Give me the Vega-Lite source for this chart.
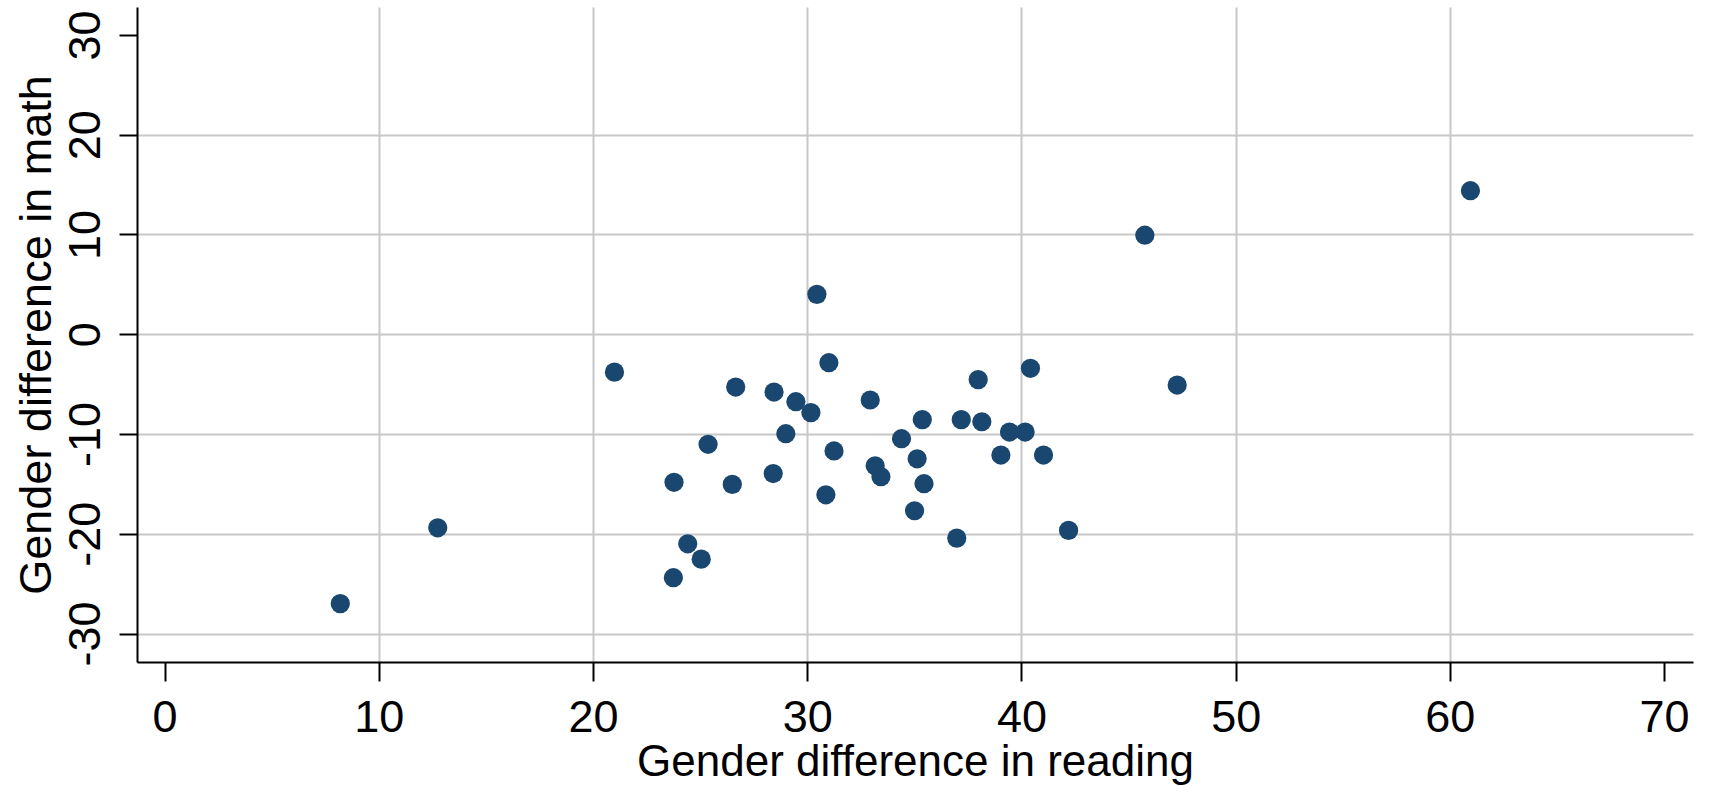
{
  "$schema": "https://vega.github.io/schema/vega-lite/v6.json",
  "autosize": {"type": "none"},
  "width": 1556,
  "height": 655,
  "padding": {"left": 137, "top": 7, "right": 18, "bottom": 124},
  "background": "white",
  "config": {
    "view": {"stroke": null},
    "font": "Liberation Sans",
    "axis": {
      "labelFont": "Liberation Sans",
      "titleFont": "Liberation Sans",
      "labelColor": "black",
      "titleColor": "black",
      "titleFontWeight": "normal",
      "domainColor": "black",
      "domainWidth": 2,
      "tickColor": "black",
      "tickWidth": 2,
      "gridColor": "#c8c8c8",
      "gridWidth": 2
    }
  },
  "data": {
    "values": [
      {"reading": 8.2, "math": -27.0},
      {"reading": 12.75, "math": -19.4},
      {"reading": 21.0, "math": -3.8},
      {"reading": 23.78, "math": -14.84},
      {"reading": 23.75, "math": -24.4},
      {"reading": 24.42, "math": -21.0},
      {"reading": 25.05, "math": -22.54},
      {"reading": 25.37, "math": -11.03},
      {"reading": 26.5, "math": -15.05},
      {"reading": 26.66, "math": -5.29},
      {"reading": 28.41, "math": -13.96},
      {"reading": 28.45, "math": -5.79},
      {"reading": 29.0, "math": -9.97},
      {"reading": 29.47, "math": -6.76},
      {"reading": 30.17, "math": -7.86},
      {"reading": 30.45, "math": 4.0},
      {"reading": 30.87, "math": -16.09},
      {"reading": 31.01, "math": -2.85},
      {"reading": 31.25, "math": -11.7},
      {"reading": 32.94, "math": -6.59},
      {"reading": 33.17, "math": -13.18},
      {"reading": 33.44, "math": -14.28},
      {"reading": 34.4, "math": -10.47},
      {"reading": 35.01, "math": -17.69},
      {"reading": 35.13, "math": -12.48},
      {"reading": 35.37, "math": -8.56},
      {"reading": 35.45, "math": -14.98},
      {"reading": 36.98, "math": -20.43},
      {"reading": 37.19, "math": -8.56},
      {"reading": 37.98, "math": -4.55},
      {"reading": 38.15, "math": -8.77},
      {"reading": 39.04, "math": -12.11},
      {"reading": 39.44, "math": -9.8},
      {"reading": 40.17, "math": -9.8},
      {"reading": 40.42, "math": -3.41},
      {"reading": 41.03, "math": -12.11},
      {"reading": 42.2, "math": -19.66},
      {"reading": 45.76, "math": 9.93},
      {"reading": 47.27, "math": -5.09},
      {"reading": 60.96, "math": 14.39}
    ]
  },
  "mark": {"type": "point", "shape": "circle", "filled": true, "size": 370, "color": "#1a476f", "opacity": 1},
  "encoding": {
    "x": {
      "field": "reading",
      "type": "quantitative",
      "scale": {"domain": [-1.29, 71.35], "nice": false, "zero": false},
      "axis": {
        "title": "Gender difference in reading",
        "titleFontSize": 44,
        "titleBaseline": "alphabetic",
        "titleY": 113,
        "values": [0, 10, 20, 30, 40, 50, 60, 70],
        "labelExpr": "'' + datum.value",
        "grid": true,
        "gridOpacity": {"condition": {"test": "datum.value === 0 || datum.value === 70", "value": 0}, "value": 1},
        "tickSize": 19,
        "labelFontSize": 45,
        "labelBaseline": "alphabetic",
        "labelPadding": 50,
        "labelFlush": false,
        "labelOverlap": false
      }
    },
    "y": {
      "field": "math",
      "type": "quantitative",
      "scale": {"domain": [-32.85, 32.8], "nice": false, "zero": false},
      "axis": {
        "title": "Gender difference in math",
        "titleFontSize": 45,
        "titleAngle": -90,
        "titleBaseline": "alphabetic",
        "titleAlign": "center",
        "titleX": -87,
        "titleY": 327.5,
        "values": [-30, -20, -10, 0, 10, 20, 30],
        "labelExpr": "'' + datum.value",
        "grid": true,
        "gridOpacity": {"condition": {"test": "datum.value === 30", "value": 0}, "value": 1},
        "tickSize": 18,
        "labelFontSize": 45,
        "labelAngle": -90,
        "labelAlign": "center",
        "labelBaseline": "alphabetic",
        "labelPadding": 20,
        "labelFlush": false,
        "labelOverlap": false
      }
    }
  }
}
